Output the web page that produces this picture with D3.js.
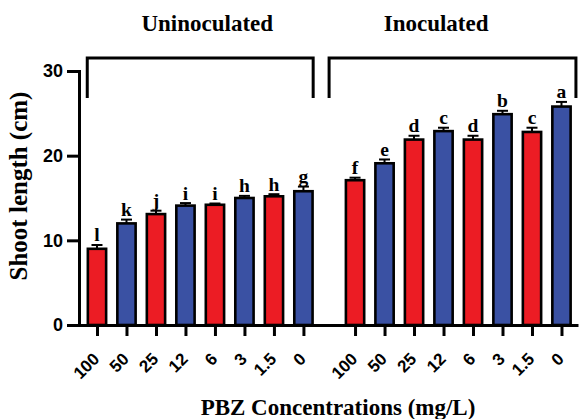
<!DOCTYPE html>
<html>
<head>
<meta charset="utf-8">
<script src="https://cdn.jsdelivr.net/npm/d3@7"></script>
<style>
  html, body { margin: 0; padding: 0; background: #fff; }
  svg { display: block; }
</style>
</head>
<body>
<div id="chart"></div>
<script>
// ---- data ----
const concentrations = ["100", "50", "25", "12", "6", "3", "1.5", "0"];
const groups = ["Uninoculated", "Inoculated"];
const uninocMeans = [9.0, 12.0, 13.1, 14.1, 14.2, 15.0, 15.2, 15.8];
const uninocErrors = [0.45, 0.45, 0.4, 0.3, 0.15, 0.25, 0.25, 0.55];
const uninocLetters = ["l", "k", "j", "i", "i", "h", "h", "g"];
const inocMeans = [17.1, 19.1, 21.9, 22.9, 21.9, 24.9, 22.8, 25.8];
const inocErrors = [0.3, 0.45, 0.45, 0.4, 0.45, 0.4, 0.5, 0.55];
const inocLetters = ["f", "e", "d", "c", "d", "b", "c", "a"];
const yTicks = [0, 10, 20, 30];
const groupOffset = 8.75; // slot position of the first bar of the second group

// ---- build rows ----
const rows = [];
concentrations.forEach((c, i) => rows.push({ group: 0, idx: i, pos: i, label: c, mean: uninocMeans[i], err: uninocErrors[i], letter: uninocLetters[i] }));
concentrations.forEach((c, i) => rows.push({ group: 1, idx: i, pos: groupOffset + i, label: c, mean: inocMeans[i], err: inocErrors[i], letter: inocLetters[i] }));

const W = 580, H = 419;
const svg = d3.select("#chart").append("svg").attr("width", W).attr("height", H);

const x = d3.scaleLinear().domain([-0.61, 16.31]).range([79, 578]);
const y = d3.scaleLinear().domain([0, 30]).range([325, 71]);
const slot = x(1) - x(0);
const barW = slot * 0.62;

const RED = "#ec1c24", BLUE = "#3a51a3";

// bars
svg.append("g").selectAll("rect").data(rows).join("rect")
  .attr("x", d => x(d.pos) - barW / 2)
  .attr("width", barW)
  .attr("y", d => y(d.mean))
  .attr("height", d => y(0) - y(d.mean))
  .attr("fill", d => d.idx % 2 === 0 ? RED : BLUE)
  .attr("stroke", "#000")
  .attr("stroke-width", 2.6);

// error bars
const eb = svg.append("g").attr("stroke", "#000").attr("stroke-width", 2);
eb.selectAll("line.v").data(rows).join("line").attr("class", "v")
  .attr("x1", d => x(d.pos)).attr("x2", d => x(d.pos))
  .attr("y1", d => y(d.mean)).attr("y2", d => y(d.mean + d.err));
eb.selectAll("line.c").data(rows).join("line").attr("class", "c")
  .attr("x1", d => x(d.pos) - 5.5).attr("x2", d => x(d.pos) + 5.5)
  .attr("y1", d => y(d.mean + d.err)).attr("y2", d => y(d.mean + d.err));

// significance letters
svg.append("g").selectAll("text").data(rows).join("text")
  .attr("x", d => x(d.pos))
  .attr("y", d => y(d.mean + d.err) - 3.5)
  .attr("text-anchor", "middle")
  .attr("font-family", "'Liberation Serif', 'Times New Roman', serif")
  .attr("font-weight", "bold")
  .attr("font-size", 19.5)
  .text(d => d.letter);

// axes
const yAxis = d3.axisLeft(y).tickValues(yTicks).tickSize(12).tickSizeOuter(0).tickPadding(4);
const gy = svg.append("g").attr("transform", `translate(${x.range()[0]},0)`).call(yAxis);
gy.select(".domain").attr("stroke-width", 3).attr("stroke-linecap", "square");
gy.selectAll(".tick line").attr("stroke-width", 3);
gy.selectAll(".tick text")
  .attr("font-family", "'Liberation Sans', Arial, sans-serif")
  .attr("font-weight", "bold").attr("font-size", 18).attr("fill", "#000");

const xAxis = d3.axisBottom(x).tickValues(rows.map(d => d.pos))
  .tickFormat((p, i) => rows[i].label).tickSize(11).tickSizeOuter(0);
const gx = svg.append("g").attr("transform", `translate(0,${y(0)})`).call(xAxis);
gx.select(".domain").attr("stroke-width", 3);
gx.selectAll(".tick line").attr("stroke-width", 3);
gx.selectAll(".tick text")
  .attr("font-family", "'Liberation Sans', Arial, sans-serif")
  .attr("font-weight", "bold").attr("font-size", 17).attr("fill", "#000")
  .attr("text-anchor", "end")
  .attr("dy", 0)
  .attr("y", 0)
  .attr("transform", "translate(3,35) rotate(-45)");

// group brackets
const bracketSpans = [[-0.33, 7.33], [7.87, 16.24]];
const bTop = 58, bBottom = 98;
const br = svg.append("g").attr("fill", "none").attr("stroke", "#000").attr("stroke-width", 3);
bracketSpans.forEach(s => {
  br.append("path").attr("d", `M${x(s[0])},${bBottom}V${bTop}H${x(s[1])}V${bBottom}`);
});
const titlePos = [3.74, 11.5];
svg.append("g").selectAll("text").data(groups).join("text")
  .attr("x", (d, i) => x(titlePos[i]))
  .attr("y", 31)
  .attr("text-anchor", "middle")
  .attr("font-family", "'Liberation Serif', 'Times New Roman', serif")
  .attr("font-weight", "bold").attr("font-size", 23)
  .text(d => d);

// axis titles
svg.append("text")
  .attr("x", 338).attr("y", 415)
  .attr("text-anchor", "middle")
  .attr("font-family", "'Liberation Serif', 'Times New Roman', serif")
  .attr("font-weight", "bold").attr("font-size", 23)
  .text("PBZ Concentrations (mg/L)");

svg.append("text")
  .attr("transform", "translate(27,186) rotate(-90)")
  .attr("text-anchor", "middle")
  .attr("font-family", "'Liberation Serif', 'Times New Roman', serif")
  .attr("font-weight", "bold").attr("font-size", 25)
  .text("Shoot length (cm)");
</script>
</body>
</html>
